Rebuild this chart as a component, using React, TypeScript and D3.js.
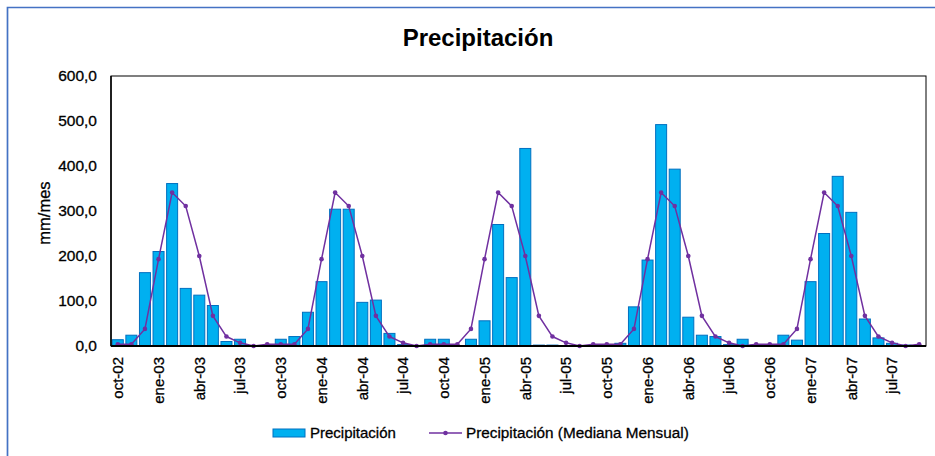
import React from "react";
import * as d3 from "d3";

const months = [
  "oct-02","nov-02","dic-02","ene-03","feb-03","mar-03","abr-03","may-03","jun-03","jul-03","ago-03","sep-03",
  "oct-03","nov-03","dic-03","ene-04","feb-04","mar-04","abr-04","may-04","jun-04","jul-04","ago-04","sep-04",
  "oct-04","nov-04","dic-04","ene-05","feb-05","mar-05","abr-05","may-05","jun-05","jul-05","ago-05","sep-05",
  "oct-05","nov-05","dic-05","ene-06","feb-06","mar-06","abr-06","may-06","jun-06","jul-06","ago-06","sep-06",
  "oct-06","nov-06","dic-06","ene-07","feb-07","mar-07","abr-07","may-07","jun-07","jul-07","ago-07","sep-07",
];

const precipitacion = [
  14, 24, 163, 210, 361, 128, 113, 90, 10, 15, 0, 0,
  15, 21, 75, 143, 304, 304, 97, 102, 28, 3, 0, 15,
  15, 1, 15, 56, 270, 152, 439, 2, 2, 1, 0, 1,
  1, 6, 87, 191, 492, 393, 64, 24, 21, 3, 15, 2,
  0, 24, 13, 143, 250, 377, 297, 60, 18, 6, 2, 1,
];

const mediana = [
  4, 4, 38, 193, 341, 311, 200, 67, 21, 7, 0, 4,
  4, 4, 38, 193, 341, 311, 200, 67, 21, 7, 0, 4,
  4, 4, 38, 193, 341, 311, 200, 67, 21, 7, 0, 4,
  4, 4, 38, 193, 341, 311, 200, 67, 21, 7, 0, 4,
  4, 4, 38, 193, 341, 311, 200, 67, 21, 7, 0, 4,
];

const yTicks = [0, 100, 200, 300, 400, 500, 600];

const title = "Precipitación";
const yLabel = "mm/mes";
const legendBar = "Precipitación";
const legendLine = "Precipitación (Mediana Mensual)";

export default function App() {
  const W = 935, H = 456;
  const left = 111, right = 926, top = 76, bottom = 346;
  const font = "'Liberation Sans', Arial, sans-serif";

  const x = d3.scaleBand<string>().domain(months).range([left, right]).paddingInner(0.19).paddingOuter(0.095);
  const xc = (m: string) => (x(m) as number) + x.bandwidth() / 2;
  const y = d3.scaleLinear().domain([0, 600]).range([bottom, top]);
  const fmt = (v: number) => d3.format(".1f")(v).replace(".", ",");

  const line = d3.line<number>().x((_, i) => xc(months[i])).y((d) => y(d));

  const labelMonths = months.filter((_, i) => i % 3 === 0);
  const txt = { fill: "#000", stroke: "#000", strokeWidth: 0.3 };

  return (
    <svg width={W} height={H} style={{ position: "absolute", left: 0, top: 0, background: "#fff" }} fontFamily={font}>
      <rect x={0} y={0} width={W} height={H} fill="#fff" />
      <path d={`M7.5,${H} L7.5,7.5 L${W},7.5`} fill="none" stroke="#4472C4" strokeWidth={1.7} />
      <text x={478} y={46} textAnchor="middle" fontSize={24} fontWeight="bold" fill="#000">{title}</text>

      {precipitacion.map((v, i) => (
        <rect key={i} x={x(months[i])} y={y(v)} width={x.bandwidth()} height={Math.max(0, bottom - y(v))}
          fill="#00B0F0" stroke="#0070C0" strokeWidth={1} />
      ))}

      <rect x={left} y={top} width={right - left} height={bottom - top} fill="none" stroke="#000" strokeWidth={1} />

      <path d={line(mediana) || ""} fill="none" stroke="#7030A0" strokeWidth={1.5} />
      {mediana.map((v, i) => (
        <circle key={i} cx={xc(months[i])} cy={y(v)} r={2.3} fill="#7030A0" />
      ))}

      <line x1={left} x2={left} y1={top} y2={bottom} stroke="#000" strokeWidth={1.5} />
      <line x1={left} x2={right} y1={bottom} y2={bottom} stroke="#000" strokeWidth={2} />

      {yTicks.map((t) => (
        <text key={t} x={97} y={y(t)} dy="0.35em" textAnchor="end" fontSize={15.5} {...txt}>{fmt(t)}</text>
      ))}
      <text transform={`translate(44,${(top + bottom) / 2 + 2}) rotate(-90)`} dy="0.35em" textAnchor="middle" fontSize={16.5} {...txt}>{yLabel}</text>

      {labelMonths.map((m) => (
        <text key={m} transform={`translate(${xc(m)},357) rotate(-90)`} dy="0.35em" textAnchor="end" fontSize={15} {...txt}>{m}</text>
      ))}

      <rect x={273} y={429} width={32} height={8} fill="#00B0F0" stroke="#0070C0" strokeWidth={1} />
      <text x={310} y={433} dy="0.35em" fontSize={15} {...txt}>{legendBar}</text>
      <line x1={429} x2={462} y1={433} y2={433} stroke="#7030A0" strokeWidth={1.5} />
      <circle cx={445.5} cy={433} r={2.3} fill="#7030A0" />
      <text x={466} y={433} dy="0.35em" fontSize={15.3} {...txt}>{legendLine}</text>
    </svg>
  );
}
